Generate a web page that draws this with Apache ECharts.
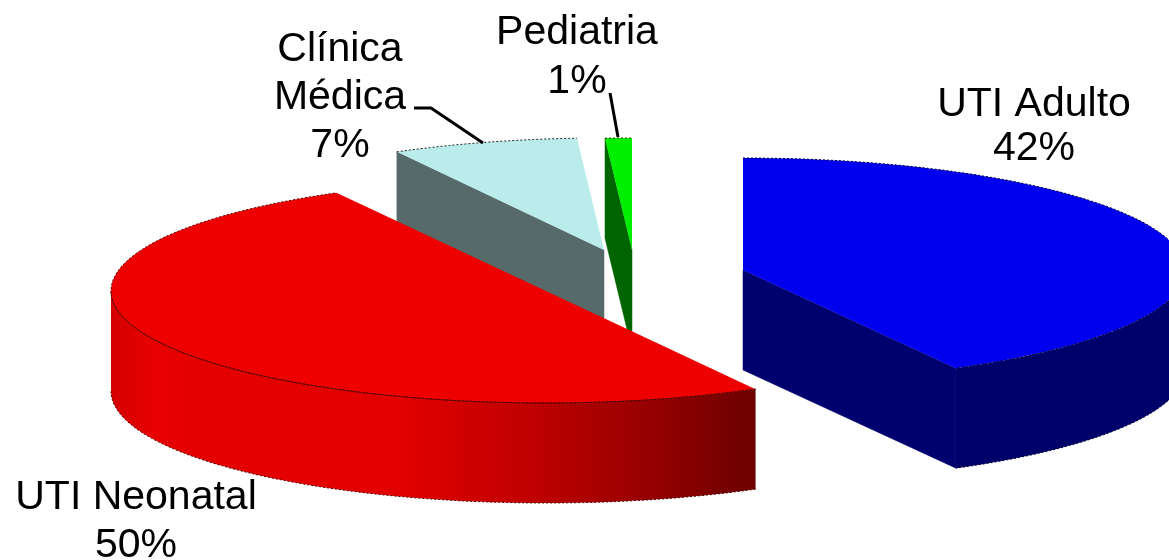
<!DOCTYPE html>
<html>
<head>
<meta charset="utf-8">
<style>html,body{margin:0;padding:0;background:#fff}#chart{width:1169px;height:560px}</style>
<script src="https://cdn.jsdelivr.net/npm/echarts@6/dist/echarts.min.js"></script>
</head>
<body>
<div id="chart"></div>
<script>
// Distribution by hospital unit, shown as an exploded 3D pie.
const categories = ['UTI Adulto', 'UTI Neonatal', 'Clínica Médica', 'Pediatria'];
const percentages = [42, 50, 7, 1];

// Projection and explosion of each wedge.
const TILT_RY = 112;
const DEPTH = 100;
const wedgeLayout = [
  { cx: 743, cy: 270, rx: 442, z: 3 },
  { cx: 546, cy: 291, rx: 435, z: 4 },
  { cx: 604, cy: 250, rx: 430, z: 2 },
  { cx: 632, cy: 250, rx: 430, z: 1 }
];
const wedgeColors = [
  { top: '#0000ee', cut: '#00006e', rim: '#00006a', edge: '#000033' },
  { top: '#ee0000', cut: '#8a0000', rim: null, edge: '#4a0000' },
  { top: '#bbecec', cut: '#566a6a', rim: '#566a6a', edge: '#222222' },
  { top: '#00ee00', cut: '#006400', rim: '#006400', edge: '#003300' }
];
const redRim = [[0, '#d40000'], [0.06, '#e60000'], [0.45, '#e20000'], [0.65, '#c00000'], [0.82, '#9a0000'], [1, '#6c0000']];

// Label lines and where they sit.
const labelLayout = [
  { lines: ['UTI Adulto', '42%'], x: 1034, y: 127, leading: 44 },
  { lines: ['UTI Neonatal', '50%'], x: 136, y: 522, leading: 48 },
  { lines: ['Clínica', 'Médica', '7%'], x: 340, y: 98, leading: 48 },
  { lines: ['Pediatria', '1%'], x: 577, y: 57, leading: 49 }
];
const leaderLayout = [
  null, null,
  [[414, 108], [431, 108], [483, 143]],
  [[610, 93], [618, 137]]
];

const total = percentages.reduce((a, b) => a + b, 0);
const DEG = Math.PI / 180;

// Clockwise angle from 12 o'clock, accumulated from the values.
const spans = [];
percentages.reduce((start, v) => {
  const end = start + v / total * 360;
  spans.push([start, end]);
  return end;
}, 0);

function rimPoint(l, deg, drop) {
  return [l.cx + Math.sin(deg * DEG) * l.rx, l.cy - Math.cos(deg * DEG) * TILT_RY + (drop || 0)];
}

function arc(l, from, to, drop) {
  const pts = [];
  const n = Math.max(2, Math.ceil(Math.abs(to - from)));
  for (let i = 0; i <= n; i++) pts.push(rimPoint(l, from + (to - from) * i / n, drop));
  return pts;
}

function renderWedge(params) {
  const i = params.dataIndex;
  const l = wedgeLayout[i];
  const c = wedgeColors[i];
  const [a0, a1] = spans[i];
  const centre = [l.cx, l.cy];
  const children = [];
  const z = l.z * 10;
  const edgeStyle = { stroke: c.edge, lineWidth: 1, lineDash: [2, 2] };

  // Cut faces that turn toward the viewer.
  const cutFace = (deg) => {
    const p = rimPoint(l, deg);
    children.push({
      type: 'polygon', z2: z,
      shape: { points: [centre, p, [p[0], p[1] + DEPTH], [l.cx, l.cy + DEPTH]] },
      style: { fill: c.cut, stroke: c.cut, lineWidth: 0.5 }
    });
  };
  if (Math.sin(a0 * DEG) < -1e-6) cutFace(a0);
  if (Math.sin(a1 * DEG) > 1e-6) cutFace(a1);

  // Outer wall: only the near half of the rim shows.
  const wallFrom = Math.max(a0, 90);
  const wallTo = Math.min(a1, 270);
  if (wallTo > wallFrom) {
    const fill = c.rim || new echarts.graphic.LinearGradient(0, 0, 1, 0,
      redRim.map(([offset, color]) => ({ offset, color })));
    const wallStroke = c.rim || '#7a0000';
    children.push({
      type: 'polygon', z2: z + 1,
      shape: { points: arc(l, wallFrom, wallTo, 0).concat(arc(l, wallTo, wallFrom, DEPTH)) },
      style: { fill, stroke: null }
    });
    children.push({
      type: 'polyline', z2: z + 3,
      shape: { points: arc(l, wallFrom, wallTo, DEPTH) },
      style: { fill: null, stroke: c.edge, lineWidth: 1, lineDash: [2, 2] }
    });
    if (!c.rim) {
      // Dark seam between the lid and the wall.
      children.push({
        type: 'polyline', z2: z + 3,
        shape: { points: arc(l, wallFrom, wallTo, 0) },
        style: { fill: null, stroke: wallStroke, lineWidth: 1 }
      });
    }
  }

  // Lid of the wedge.
  children.push({
    type: 'polygon', z2: z + 2,
    shape: { points: [centre].concat(arc(l, a0, a1, 0)) },
    style: { fill: c.top, stroke: null }
  });
  children.push({
    type: 'polyline', z2: z + 3,
    shape: { points: arc(l, a0, a1, 0) },
    style: Object.assign({ fill: null }, edgeStyle)
  });

  // Value label and its leader line.
  const lab = labelLayout[i];
  children.push({
    type: 'text', z2: 100,
    style: {
      text: lab.lines.join('\n'), x: lab.x, y: lab.y,
      align: 'center', verticalAlign: 'middle',
      font: '41px "Liberation Sans", Arial, sans-serif',
      lineHeight: lab.leading, fill: '#000'
    }
  });
  if (leaderLayout[i]) {
    children.push({
      type: 'polyline', z2: 100,
      shape: { points: leaderLayout[i] },
      style: { fill: null, stroke: '#000', lineWidth: 3 }
    });
  }
  return { type: 'group', children };
}

const chart = echarts.init(document.getElementById('chart'), null, { renderer: 'canvas' });
chart.setOption({
  animation: false,
  backgroundColor: '#fff',
  series: [{
    type: 'custom',
    coordinateSystem: 'none',
    renderItem: renderWedge,
    clip: false,
    data: categories.map((name, i) => ({ name, value: percentages[i] }))
  }]
});
</script>
</body>
</html>
